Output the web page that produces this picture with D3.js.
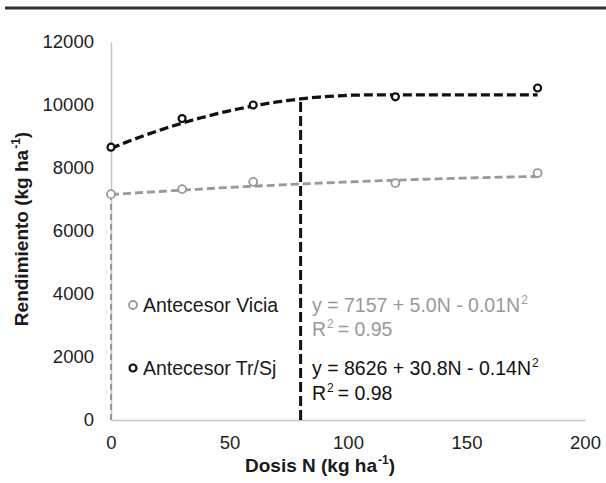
<!DOCTYPE html>
<html>
<head>
<meta charset="utf-8">
<script src="https://cdn.jsdelivr.net/npm/d3@7"></script>
<style>
  body { margin: 0; background: #fff; }
  svg { font-family: 'Liberation Sans', Arial, sans-serif; }
</style>
</head>
<body>
<svg id="chart" width="606" height="483"></svg>
<script>
// Data
const doses = [0, 30, 60, 120, 180]
const yieldVicia = [7170, 7330, 7560, 7520, 7840]
const yieldTrSj = [8660, 9570, 10000, 10260, 10540]
// fitted quadratic coefficients (a + bN + cN^2), as printed
const coefVicia = [7157, 5.0, -0.01]
const coefTrSj = [8626, 30.8, -0.14]
const doseOptimo = 80
const xTicks = [0, 50, 100, 150, 200]
const yTicks = [0, 2000, 4000, 6000, 8000, 10000, 12000]

const svg = d3.select('#chart')

// top rule
svg.append('line')
  .attr('x1', 5).attr('x2', 606)
  .attr('y1', 8).attr('y2', 8)
  .attr('stroke', '#333').attr('stroke-width', 3)

const x = d3.scaleLinear().domain([0, 200]).range([111, 585])
const y = d3.scaleLinear().domain([0, 12000]).range([420, 42])

const grayCol = '#999'
const blackCol = '#111'

// Axes (Excel style: no tick marks, light gray lines)
const xAxis = svg.append('g')
  .attr('transform', 'translate(0,' + y(0) + ')')
  .call(d3.axisBottom(x).tickValues(xTicks).tickSize(0).tickPadding(15))
xAxis.select('.domain').attr('stroke', '#c4c4c4').attr('stroke-width', 1.5)
xAxis.selectAll('text').attr('font-size', 18.5).attr('fill', '#222').attr('dy', '0.75em')

const yAxis = svg.append('g')
  .attr('transform', 'translate(' + x(0) + ',0)')
  .call(d3.axisLeft(y).tickValues(yTicks).tickSize(0).tickPadding(17).tickFormat(d3.format('d')))
yAxis.select('.domain').attr('stroke', '#c4c4c4').attr('stroke-width', 1.5)
yAxis.selectAll('text').attr('font-size', 18.5).attr('fill', '#222')

// fitted curves
function quad (c, n) { return c[0] + c[1] * n + c[2] * n * n }

const line = d3.line().x(d => x(d[0])).y(d => y(d[1]))

const nSteps = d3.range(0, 180.5, 2)
const viciaFit = nSteps.map(n => [n, quad(coefVicia, n)])
// Tr/Sj: quadratic-plateau, flat after the maximum
const nMax = -coefTrSj[1] / (2 * coefTrSj[2])
const trSjFit = nSteps.map(n => [n, quad(coefTrSj, Math.min(n, nMax))])

// gray dashed drop line at N = 0
svg.append('line')
  .attr('x1', x(0)).attr('x2', x(0))
  .attr('y1', y(0)).attr('y2', y(coefVicia[0]))
  .attr('stroke', grayCol).attr('stroke-width', 2)
  .attr('stroke-dasharray', '6,4')

svg.append('path')
  .datum(viciaFit)
  .attr('d', line)
  .attr('fill', 'none')
  .attr('stroke', grayCol).attr('stroke-width', 2.8)
  .attr('stroke-dasharray', '8,4')

// black vertical line at the optimum dose
svg.append('line')
  .attr('x1', x(doseOptimo)).attr('x2', x(doseOptimo))
  .attr('y1', y(0)).attr('y2', y(quad(coefTrSj, doseOptimo)))
  .attr('stroke', blackCol).attr('stroke-width', 3)
  .attr('stroke-dasharray', '10,4')

svg.append('path')
  .datum(trSjFit)
  .attr('d', line)
  .attr('fill', 'none')
  .attr('stroke', blackCol).attr('stroke-width', 3.3)
  .attr('stroke-dasharray', '9,4')

// observed points
svg.append('g').selectAll('circle')
  .data(doses)
  .enter().append('circle')
  .attr('cx', d => x(d))
  .attr('cy', (d, i) => y(yieldVicia[i]))
  .attr('r', 4)
  .attr('fill', '#fff').attr('stroke', grayCol).attr('stroke-width', 1.8)

svg.append('g').selectAll('circle')
  .data(doses)
  .enter().append('circle')
  .attr('cx', d => x(d))
  .attr('cy', (d, i) => y(yieldTrSj[i]))
  .attr('r', 3.5)
  .attr('fill', '#fff').attr('stroke', blackCol).attr('stroke-width', 2.2)

// legend
const legend = [
  { label: 'Antecesor Vicia', col: grayCol, sw: 1.8, r: 4, yy: 305 },
  { label: 'Antecesor Tr/Sj', col: blackCol, sw: 2.2, r: 3.5, yy: 368 }
]
legend.forEach(l => {
  svg.append('circle')
    .attr('cx', 133).attr('cy', l.yy).attr('r', l.r)
    .attr('fill', '#fff').attr('stroke', l.col).attr('stroke-width', l.sw)
  svg.append('text')
    .attr('x', 143).attr('y', l.yy + 7)
    .attr('font-size', 19.5).attr('fill', '#1a1a1a')
    .text(l.label)
})

// text with superscripts; parts are [text, superscript] pairs
function supText (sel, parts, supSize) {
  let shift = 0
  parts.forEach(p => {
    sel.append('tspan').attr('dy', shift).text(p[0])
    shift = 0
    if (p[1]) {
      sel.append('tspan').attr('font-size', supSize).attr('dy', -8).attr('dx', 1).text(p[1])
      shift = 8
    }
  })
}
function eqText (xx, yy, col, parts) {
  const t = svg.append('text')
    .attr('x', xx).attr('y', yy)
    .attr('font-size', 19.5).attr('fill', col)
  supText(t, parts, 12)
}
eqText(312, 312, grayCol, [['y = 7157 + 5.0N - 0.01N', '2']])
eqText(312, 336, grayCol, [['R', '2'], ['\u2009= 0.95']])
eqText(312, 375, blackCol, [['y = 8626 + 30.8N - 0.14N', '2']])
eqText(312, 400, blackCol, [['R', '2'], ['\u2009= 0.98']])

// axis titles
const xt = svg.append('text')
  .attr('x', 320).attr('y', 472)
  .attr('text-anchor', 'middle')
  .attr('font-size', 19).attr('font-weight', 'bold').attr('fill', '#1a1a1a')
supText(xt, [['Dosis N (kg ha', '-1'], [')']], 12)

const yt = svg.append('text')
  .attr('transform', 'translate(28,229) rotate(-90)')
  .attr('text-anchor', 'middle')
  .attr('font-size', 19).attr('font-weight', 'bold').attr('fill', '#1a1a1a')
supText(yt, [['Rendimiento (kg ha', '-1'], [')']], 12)
</script>
</body>
</html>
